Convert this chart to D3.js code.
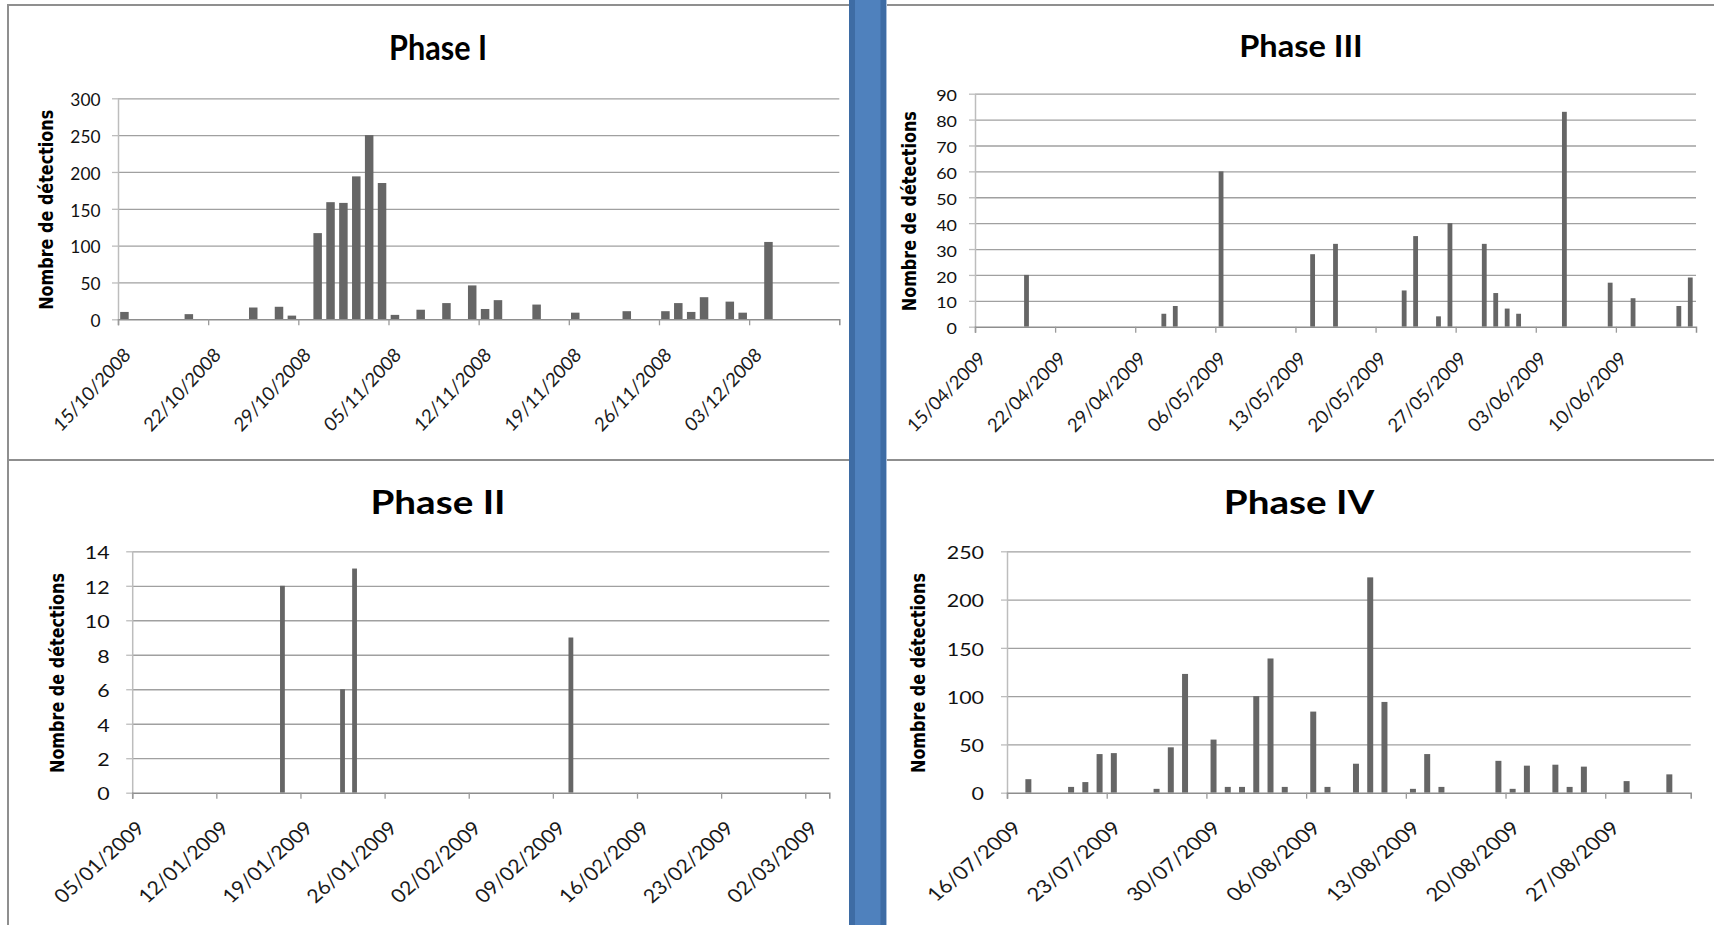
<!DOCTYPE html>
<html>
<head>
<meta charset="utf-8">
<script src="https://cdn.jsdelivr.net/npm/d3@7"></script>
<style>
  body { margin: 0; background: #fff; }
  svg { display: block; }
</style>
</head>
<body>
<div id="chart"></div>
<script>
// Phase I : 15/10/2008 -> 09/12/2008
var phase1Range = ["15/10/2008", "10/12/2008"];
var phase1Ticks = ["15/10/2008", "22/10/2008", "29/10/2008", "05/11/2008", "12/11/2008", "19/11/2008", "26/11/2008", "03/12/2008"];
var phase1YTicks = [0, 50, 100, 150, 200, 250, 300];
var phase1Dates = ["15/10/2008", "20/10/2008", "25/10/2008", "27/10/2008", "28/10/2008", "30/10/2008", "31/10/2008",
  "01/11/2008", "02/11/2008", "03/11/2008", "04/11/2008", "05/11/2008", "07/11/2008", "09/11/2008", "11/11/2008",
  "12/11/2008", "13/11/2008", "16/11/2008", "19/11/2008", "23/11/2008", "26/11/2008", "27/11/2008", "28/11/2008",
  "29/11/2008", "01/12/2008", "02/12/2008", "04/12/2008"];
var phase1Values = [10, 7, 16, 17, 5, 117, 159, 158, 194, 250, 185, 6, 13, 22, 46, 14, 26, 20, 9, 11, 11, 22, 10, 30, 24, 9, 105];

// Phase II : 05/01/2009 -> 03/03/2009
var phase2Range = ["05/01/2009", "04/03/2009"];
var phase2Ticks = ["05/01/2009", "12/01/2009", "19/01/2009", "26/01/2009", "02/02/2009", "09/02/2009", "16/02/2009", "23/02/2009", "02/03/2009"];
var phase2YTicks = [0, 2, 4, 6, 8, 10, 12, 14];
var phase2Dates = ["17/01/2009", "22/01/2009", "23/01/2009", "10/02/2009"];
var phase2Values = [12, 6, 13, 9];

// Phase III : 15/04/2009 -> 16/06/2009
var phase3Range = ["15/04/2009", "17/06/2009"];
var phase3Ticks = ["15/04/2009", "22/04/2009", "29/04/2009", "06/05/2009", "13/05/2009", "20/05/2009", "27/05/2009", "03/06/2009", "10/06/2009"];
var phase3YTicks = [0, 10, 20, 30, 40, 50, 60, 70, 80, 90];
var phase3Dates = ["19/04/2009", "01/05/2009", "02/05/2009", "06/05/2009", "14/05/2009", "16/05/2009", "22/05/2009",
  "23/05/2009", "25/05/2009", "26/05/2009", "29/05/2009", "30/05/2009", "31/05/2009", "01/06/2009", "05/06/2009",
  "09/06/2009", "11/06/2009", "15/06/2009", "16/06/2009"];
var phase3Values = [20, 5, 8, 60, 28, 32, 14, 35, 4, 40, 32, 13, 7, 5, 83, 17, 11, 8, 19];

// Phase IV : 16/07/2009 -> 01/09/2009
var phase4Range = ["16/07/2009", "02/09/2009"];
var phase4Ticks = ["16/07/2009", "23/07/2009", "30/07/2009", "06/08/2009", "13/08/2009", "20/08/2009", "27/08/2009"];
var phase4YTicks = [0, 50, 100, 150, 200, 250];
var phase4Dates = ["17/07/2009", "20/07/2009", "21/07/2009", "22/07/2009", "23/07/2009", "26/07/2009", "27/07/2009",
  "28/07/2009", "30/07/2009", "31/07/2009", "01/08/2009", "02/08/2009", "03/08/2009", "04/08/2009", "06/08/2009",
  "07/08/2009", "09/08/2009", "10/08/2009", "11/08/2009", "13/08/2009", "14/08/2009", "15/08/2009", "19/08/2009",
  "20/08/2009", "21/08/2009", "23/08/2009", "24/08/2009", "25/08/2009", "28/08/2009", "31/08/2009"];
var phase4Values = [14, 6, 11, 40, 41, 4, 47, 123, 55, 6, 6, 100, 139, 6, 84, 6, 30, 223, 94, 4, 40, 6, 33, 4, 28, 29, 6, 27, 12, 19];

var yLabel = "Nombre de détections";

var larg = 1714;
var haut = 925;
var parse = d3.utcParse("%d/%m/%Y");

var svg = d3.select("#chart")
  .append("svg")
  .attr("width", larg)
  .attr("height", haut)
  .attr("viewBox", "0 0 " + larg + " " + haut);

// cadres gris
var frameColor = "#8f8f8f";
[[8, 5, 849, 5], [887, 5, 1714, 5], [8, 460, 849, 460], [887, 460, 1714, 460], [8, 4, 8, 925]].forEach(function(l) {
  svg.append("line")
    .attr("x1", l[0]).attr("y1", l[1]).attr("x2", l[2]).attr("y2", l[3])
    .attr("stroke", frameColor).attr("stroke-width", 2);
});

// bande bleue centrale
svg.append("rect").attr("x", 849).attr("y", 0).attr("width", 37).attr("height", haut).attr("fill", "#4f81bd");
svg.append("rect").attr("x", 849).attr("y", 0).attr("width", 6).attr("height", haut).attr("fill", "#3e6ca4");
svg.append("rect").attr("x", 880.5).attr("y", 0).attr("width", 5.5).attr("height", haut).attr("fill", "#3e6ca4");
svg.append("rect").attr("x", 886).attr("y", 0).attr("width", 1).attr("height", haut).attr("fill", "#a9bfdc");

var panels = [
  { title: "Phase I", range: phase1Range, ticks: phase1Ticks, yTicks: phase1YTicks, dates: phase1Dates, values: phase1Values,
    left: 118, right: 839.3, top: 98.3, bottom: 319.3, barFrac: 0.66,
    titleX: 438, titleY: 60, titleSize: 34, titleSx: 0.9,
    tickSize: 16.5, sx: 1.05, gap: 17.5, labelX: 46,
    xt: { size: 17.5, sx: 1.03, sy: 1.115, dx: 4, dy: 27 } },
  { title: "Phase III", range: phase3Range, ticks: phase3Ticks, yTicks: phase3YTicks, dates: phase3Dates, values: phase3Values,
    left: 975, right: 1696, top: 93.7, bottom: 326.7, barFrac: 0.42,
    titleX: 1301, titleY: 56.7, titleSize: 31, titleSx: 1.05,
    tickSize: 16, sx: 1.12, gap: 18, labelX: 909,
    xt: { size: 17.5, sx: 1.05, sy: 1.07, dx: 2, dy: 23.5 } },
  { title: "Phase II", range: phase2Range, ticks: phase2Ticks, yTicks: phase2YTicks, dates: phase2Dates, values: phase2Values,
    left: 132.2, right: 829.3, top: 551.3, bottom: 792.7, barFrac: 0.4,
    titleX: 438, titleY: 514.3, titleSize: 33, titleSx: 1.17,
    tickSize: 16.5, sx: 1.3, gap: 22.5, labelX: 56.5,
    xt: { size: 17.5, sx: 1.21, sy: 1.09, dx: 2.5, dy: 27 } },
  { title: "Phase IV", range: phase4Range, ticks: phase4Ticks, yTicks: phase4YTicks, dates: phase4Dates, values: phase4Values,
    left: 1007, right: 1690.7, top: 551.3, bottom: 792.7, barFrac: 0.42,
    titleX: 1299, titleY: 514.3, titleSize: 33, titleSx: 1.17,
    tickSize: 16.5, sx: 1.3, gap: 23, labelX: 918,
    xt: { size: 17.5, sx: 1.26, sy: 1.07, dx: 4, dy: 27 } }
];

panels.forEach(drawPanel);

function drawPanel(p) {
  var x = d3.scaleUtc().domain(p.range.map(parse)).range([p.left, p.right]);
  var y = d3.scaleLinear().domain([0, d3.max(p.yTicks)]).range([p.bottom, p.top]);
  var g = svg.append("g");

  // titre
  g.append("text")
    .text(p.title)
    .attr("transform", "translate(" + p.titleX + "," + p.titleY + ") scale(" + p.titleSx + ",1)")
    .attr("text-anchor", "middle")
    .attr("font-family", "Lato, 'Open Sans', sans-serif")
    .attr("font-weight", "bold")
    .attr("font-size", p.titleSize + "px")
    .attr("fill", "#000");

  // lignes de quadrillage
  g.append("g")
    .attr("transform", "translate(" + p.left + ",0)")
    .call(d3.axisLeft(y).tickValues(p.yTicks.slice(1)).tickSize(-(p.right - p.left)).tickFormat(""))
    .call(function(a) { a.select(".domain").remove(); })
    .selectAll("line")
    .attr("stroke", "#a0a0a0")
    .attr("stroke-width", 1.3);

  // barres
  var day0 = x.domain()[0];
  var dayW = x(d3.utcDay.offset(day0, 1)) - x(day0);
  var bw = dayW * p.barFrac;
  var rows = p.dates.map(function(d, i) { return { date: parse(d), value: p.values[i] }; });
  g.selectAll("rect.bar")
    .data(rows)
    .enter()
    .append("rect")
    .attr("class", "bar")
    .attr("x", function(d) { return x(d.date) + (dayW - bw) / 2; })
    .attr("width", bw)
    .attr("y", function(d) { return y(d.value); })
    .attr("height", function(d) { return y(0) - y(d.value); })
    .attr("fill", "#666666");

  // axe vertical
  var ya = g.append("g")
    .attr("transform", "translate(" + p.left + ",0)")
    .call(d3.axisLeft(y).tickValues(p.yTicks).tickSize(6).tickSizeOuter(0));
  ya.select(".domain").attr("stroke", "#bdbdbd").attr("stroke-width", 1.5);
  ya.selectAll("line").attr("stroke", "#bdbdbd").attr("stroke-width", 1.3);
  ya.selectAll("text")
    .attr("x", 0)
    .attr("dy", "0.38em")
    .attr("transform", "translate(" + (-p.gap) + ",1) scale(" + p.sx + ",1)")
    .attr("text-anchor", "end")
    .attr("font-family", "Lato, 'Open Sans', sans-serif")
    .attr("font-size", p.tickSize + "px")
    .attr("fill", "#111");

  // axe horizontal (dates)
  var xa = g.append("g")
    .attr("transform", "translate(0," + p.bottom + ")")
    .call(d3.axisBottom(x)
      .tickValues(p.ticks.map(parse))
      .tickFormat(function(d, i) { return p.ticks[i]; })
      .tickSize(6)
      .tickSizeOuter(6));
  xa.select(".domain").attr("stroke", "#8e8e8e").attr("stroke-width", 1.5);
  xa.selectAll("line").attr("stroke", "#9a9a9a").attr("stroke-width", 1.3);
  xa.selectAll("text")
    .attr("x", 0)
    .attr("y", 0)
    .attr("dy", "0.72em")
    .attr("transform", "translate(" + p.xt.dx + "," + p.xt.dy + ") scale(" + p.xt.sx + "," + p.xt.sy + ") rotate(-45)")
    .attr("text-anchor", "end")
    .attr("font-family", "Lato, 'Open Sans', sans-serif")
    .attr("font-size", p.xt.size + "px")
    .attr("fill", "#1a1a1a");

  // titre de l'axe
  g.append("text")
    .text(yLabel)
    .attr("transform", "translate(" + p.labelX + "," + ((p.top + p.bottom) / 2 + 1) + ") rotate(-90) scale(0.8,1)")
    .attr("text-anchor", "middle")
    .attr("dy", "0.36em")
    .attr("font-family", "'DejaVu Sans', Verdana, sans-serif")
    .attr("font-weight", "bold")
    .attr("font-size", "20px")
    .attr("fill", "#000");
}
</script>
</body>
</html>
